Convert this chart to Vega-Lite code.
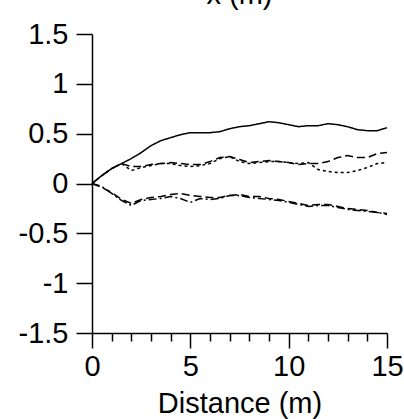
{
  "$schema": "https://vega.github.io/schema/vega-lite/v6.json",
  "width": 295,
  "height": 299,
  "autosize": {"type": "none"},
  "padding": {"left": 92, "top": 34, "right": 17, "bottom": 86},
  "background": "white",
  "title": {"text": "x (m)", "fontSize": 29, "font": "Liberation Sans", "fontWeight": "normal", "anchor": "middle", "baseline": "alphabetic", "offset": -13, "frame": "group", "color": "black"},
  "config": {
    "view": {"stroke": null},
    "axis": {"domainColor": "black", "tickColor": "black", "labelColor": "black", "titleColor": "black", "labelFont": "Liberation Sans", "titleFont": "Liberation Sans", "labelFontSize": 29, "titleFontSize": 29, "titleFontWeight": "normal", "grid": false, "domainWidth": 1.5, "tickWidth": 1.5}
  },
  "data": {"values": [
    {"d": 0, "s": 0, "a": 0, "b": 0, "c": 0, "e": 0},
    {"d": 0.5, "s": 0.08, "a": 0.08, "b": 0.08, "c": -0.04, "e": -0.03},
    {"d": 1, "s": 0.15, "a": 0.15, "b": 0.15, "c": -0.09, "e": -0.1},
    {"d": 1.5, "s": 0.2, "a": 0.2, "b": 0.2, "c": -0.16, "e": -0.17},
    {"d": 2, "s": 0.25, "a": 0.17, "b": 0.13, "c": -0.2, "e": -0.22},
    {"d": 2.5, "s": 0.31, "a": 0.17, "b": 0.16, "c": -0.16, "e": -0.17},
    {"d": 3, "s": 0.38, "a": 0.19, "b": 0.18, "c": -0.14, "e": -0.16},
    {"d": 3.5, "s": 0.43, "a": 0.2, "b": 0.2, "c": -0.13, "e": -0.15},
    {"d": 4, "s": 0.46, "a": 0.21, "b": 0.2, "c": -0.11, "e": -0.13},
    {"d": 4.5, "s": 0.49, "a": 0.2, "b": 0.18, "c": -0.1, "e": -0.15},
    {"d": 5, "s": 0.51, "a": 0.19, "b": 0.17, "c": -0.12, "e": -0.19},
    {"d": 5.5, "s": 0.51, "a": 0.19, "b": 0.18, "c": -0.13, "e": -0.15},
    {"d": 6, "s": 0.51, "a": 0.22, "b": 0.2, "c": -0.14, "e": -0.16},
    {"d": 6.5, "s": 0.52, "a": 0.26, "b": 0.25, "c": -0.14, "e": -0.15},
    {"d": 7, "s": 0.55, "a": 0.27, "b": 0.27, "c": -0.12, "e": -0.12},
    {"d": 7.5, "s": 0.57, "a": 0.24, "b": 0.22, "c": -0.11, "e": -0.12},
    {"d": 8, "s": 0.58, "a": 0.21, "b": 0.2, "c": -0.13, "e": -0.14},
    {"d": 8.5, "s": 0.6, "a": 0.22, "b": 0.21, "c": -0.13, "e": -0.15},
    {"d": 9, "s": 0.62, "a": 0.23, "b": 0.22, "c": -0.15, "e": -0.16},
    {"d": 9.5, "s": 0.61, "a": 0.22, "b": 0.22, "c": -0.16, "e": -0.17},
    {"d": 10, "s": 0.59, "a": 0.21, "b": 0.21, "c": -0.18, "e": -0.19},
    {"d": 10.5, "s": 0.57, "a": 0.19, "b": 0.2, "c": -0.2, "e": -0.21},
    {"d": 11, "s": 0.58, "a": 0.2, "b": 0.21, "c": -0.22, "e": -0.23},
    {"d": 11.5, "s": 0.58, "a": 0.2, "b": 0.14, "c": -0.21, "e": -0.22},
    {"d": 12, "s": 0.6, "a": 0.22, "b": 0.12, "c": -0.21, "e": -0.22},
    {"d": 12.5, "s": 0.59, "a": 0.26, "b": 0.11, "c": -0.23, "e": -0.24},
    {"d": 13, "s": 0.57, "a": 0.28, "b": 0.11, "c": -0.25, "e": -0.26},
    {"d": 13.5, "s": 0.54, "a": 0.26, "b": 0.13, "c": -0.26, "e": -0.27},
    {"d": 14, "s": 0.53, "a": 0.26, "b": 0.16, "c": -0.27, "e": -0.28},
    {"d": 14.5, "s": 0.53, "a": 0.3, "b": 0.2, "c": -0.29, "e": -0.29},
    {"d": 15, "s": 0.56, "a": 0.31, "b": 0.21, "c": -0.3, "e": -0.31}
  ]},
  "transform": [{"fold": ["s", "a", "b", "c", "e"], "as": ["run", "x"]}],
  "mark": {"type": "line", "strokeWidth": 1.5, "color": "black", "clip": false},
  "encoding": {
    "x": {"field": "d", "type": "quantitative", "scale": {"domain": [0, 15], "nice": false},
      "axis": {"values": [0,1,2,3,4,5,6,7,8,9,10,11,12,13,14,15],
        "tickSize": {"condition": {"test": "datum.value % 5 === 0", "value": 15}, "value": 8},
        "labelExpr": "datum.value % 5 === 0 ? datum.label : ''",
        "labelPadding": 4, "labelFlush": false, "labelOverlap": false, "title": "Distance (m)", "titlePadding": 8}},
    "y": {"field": "x", "type": "quantitative", "scale": {"domain": [-1.5, 1.5], "nice": false},
      "axis": {"values": [-1.5, -1, -0.5, 0, 0.5, 1, 1.5], "tickSize": 16, "labelPadding": 8, "labelExpr": "toString(datum.value)", "title": null, "labelFlush": false, "labelOverlap": false}},
    "strokeDash": {"field": "run", "type": "nominal", "scale": {"domain": ["s", "a", "b", "c", "e"], "range": [[1, 0], [8, 4], [3, 3], [8, 4], [8, 3, 2, 3]]}, "legend": null}
  }
}
